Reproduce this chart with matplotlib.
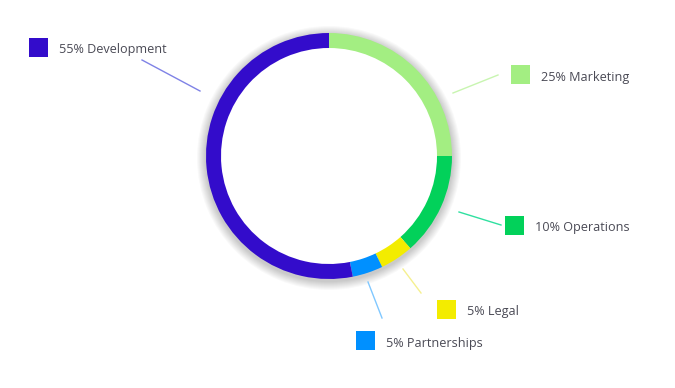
import numpy as np
import matplotlib.pyplot as plt
from matplotlib.patches import Wedge, Rectangle

# data
labels = ["25% Marketing", "10% Operations", "5% Legal", "5% Partnerships", "55% Development"]
arc_values = [25, 13.5, 4.4, 4.0, 53.1]   # share of ring drawn for each segment
colors = ["#A3EE82", "#02D15A", "#F3EC00", "#0090FF", "#330CCB"]

# layout (pixel coords, y down)
W, H = 675, 388
cx, cy, r_out, ring = 329, 156, 123, 15
box_pos = [(511, 65), (505, 216), (437, 300), (356, 331), (29, 38)]
lines = [((453, 93), (498, 75)), ((459, 212), (501, 225)), ((403, 269), (421, 293)),
         ((368, 282), (382, 318)), ((200, 91), (142, 60))]
line_colors = ["#c8f5b0", "#2fe0a0", "#f5f090", "#80c8ff", "#7f82e6"]


def py(y):
    return H - y


fig = plt.figure(figsize=(W / 100, H / 100), dpi=100)
ax = fig.add_axes([0, 0, 1, 1])

# soft shadow around the ring (outside only)
for k in range(9, 0, -1):
    ax.add_patch(Wedge((cx, py(cy + 2)), r_out + k, 0, 360, width=ring + k - 4,
                       facecolor="black", edgecolor="none", alpha=0.022))

ax.pie(arc_values, colors=colors, startangle=90, counterclock=False,
       center=(cx, py(cy)), radius=r_out,
       wedgeprops=dict(width=ring, edgecolor="none", linewidth=0, antialiased=True))

for lab, col, (bx, by), (p0, p1), lc in zip(labels, colors, box_pos, lines, line_colors):
    ax.plot([p0[0], p1[0]], [py(p0[1]), py(p1[1])], color=lc, lw=1)
    ax.add_patch(Rectangle((bx, py(by + 19)), 19, 19, facecolor=col, edgecolor="none"))
    ax.text(bx + 30, py(by + 12), lab, fontsize=9.1, family="Open Sans",
            color="#4a4a55", va="center", ha="left")

ax.set_xlim(0, W)
ax.set_ylim(0, H)
ax.set_aspect("auto")
ax.axis("off")

fig.savefig("out.png", dpi=100, facecolor="white")
